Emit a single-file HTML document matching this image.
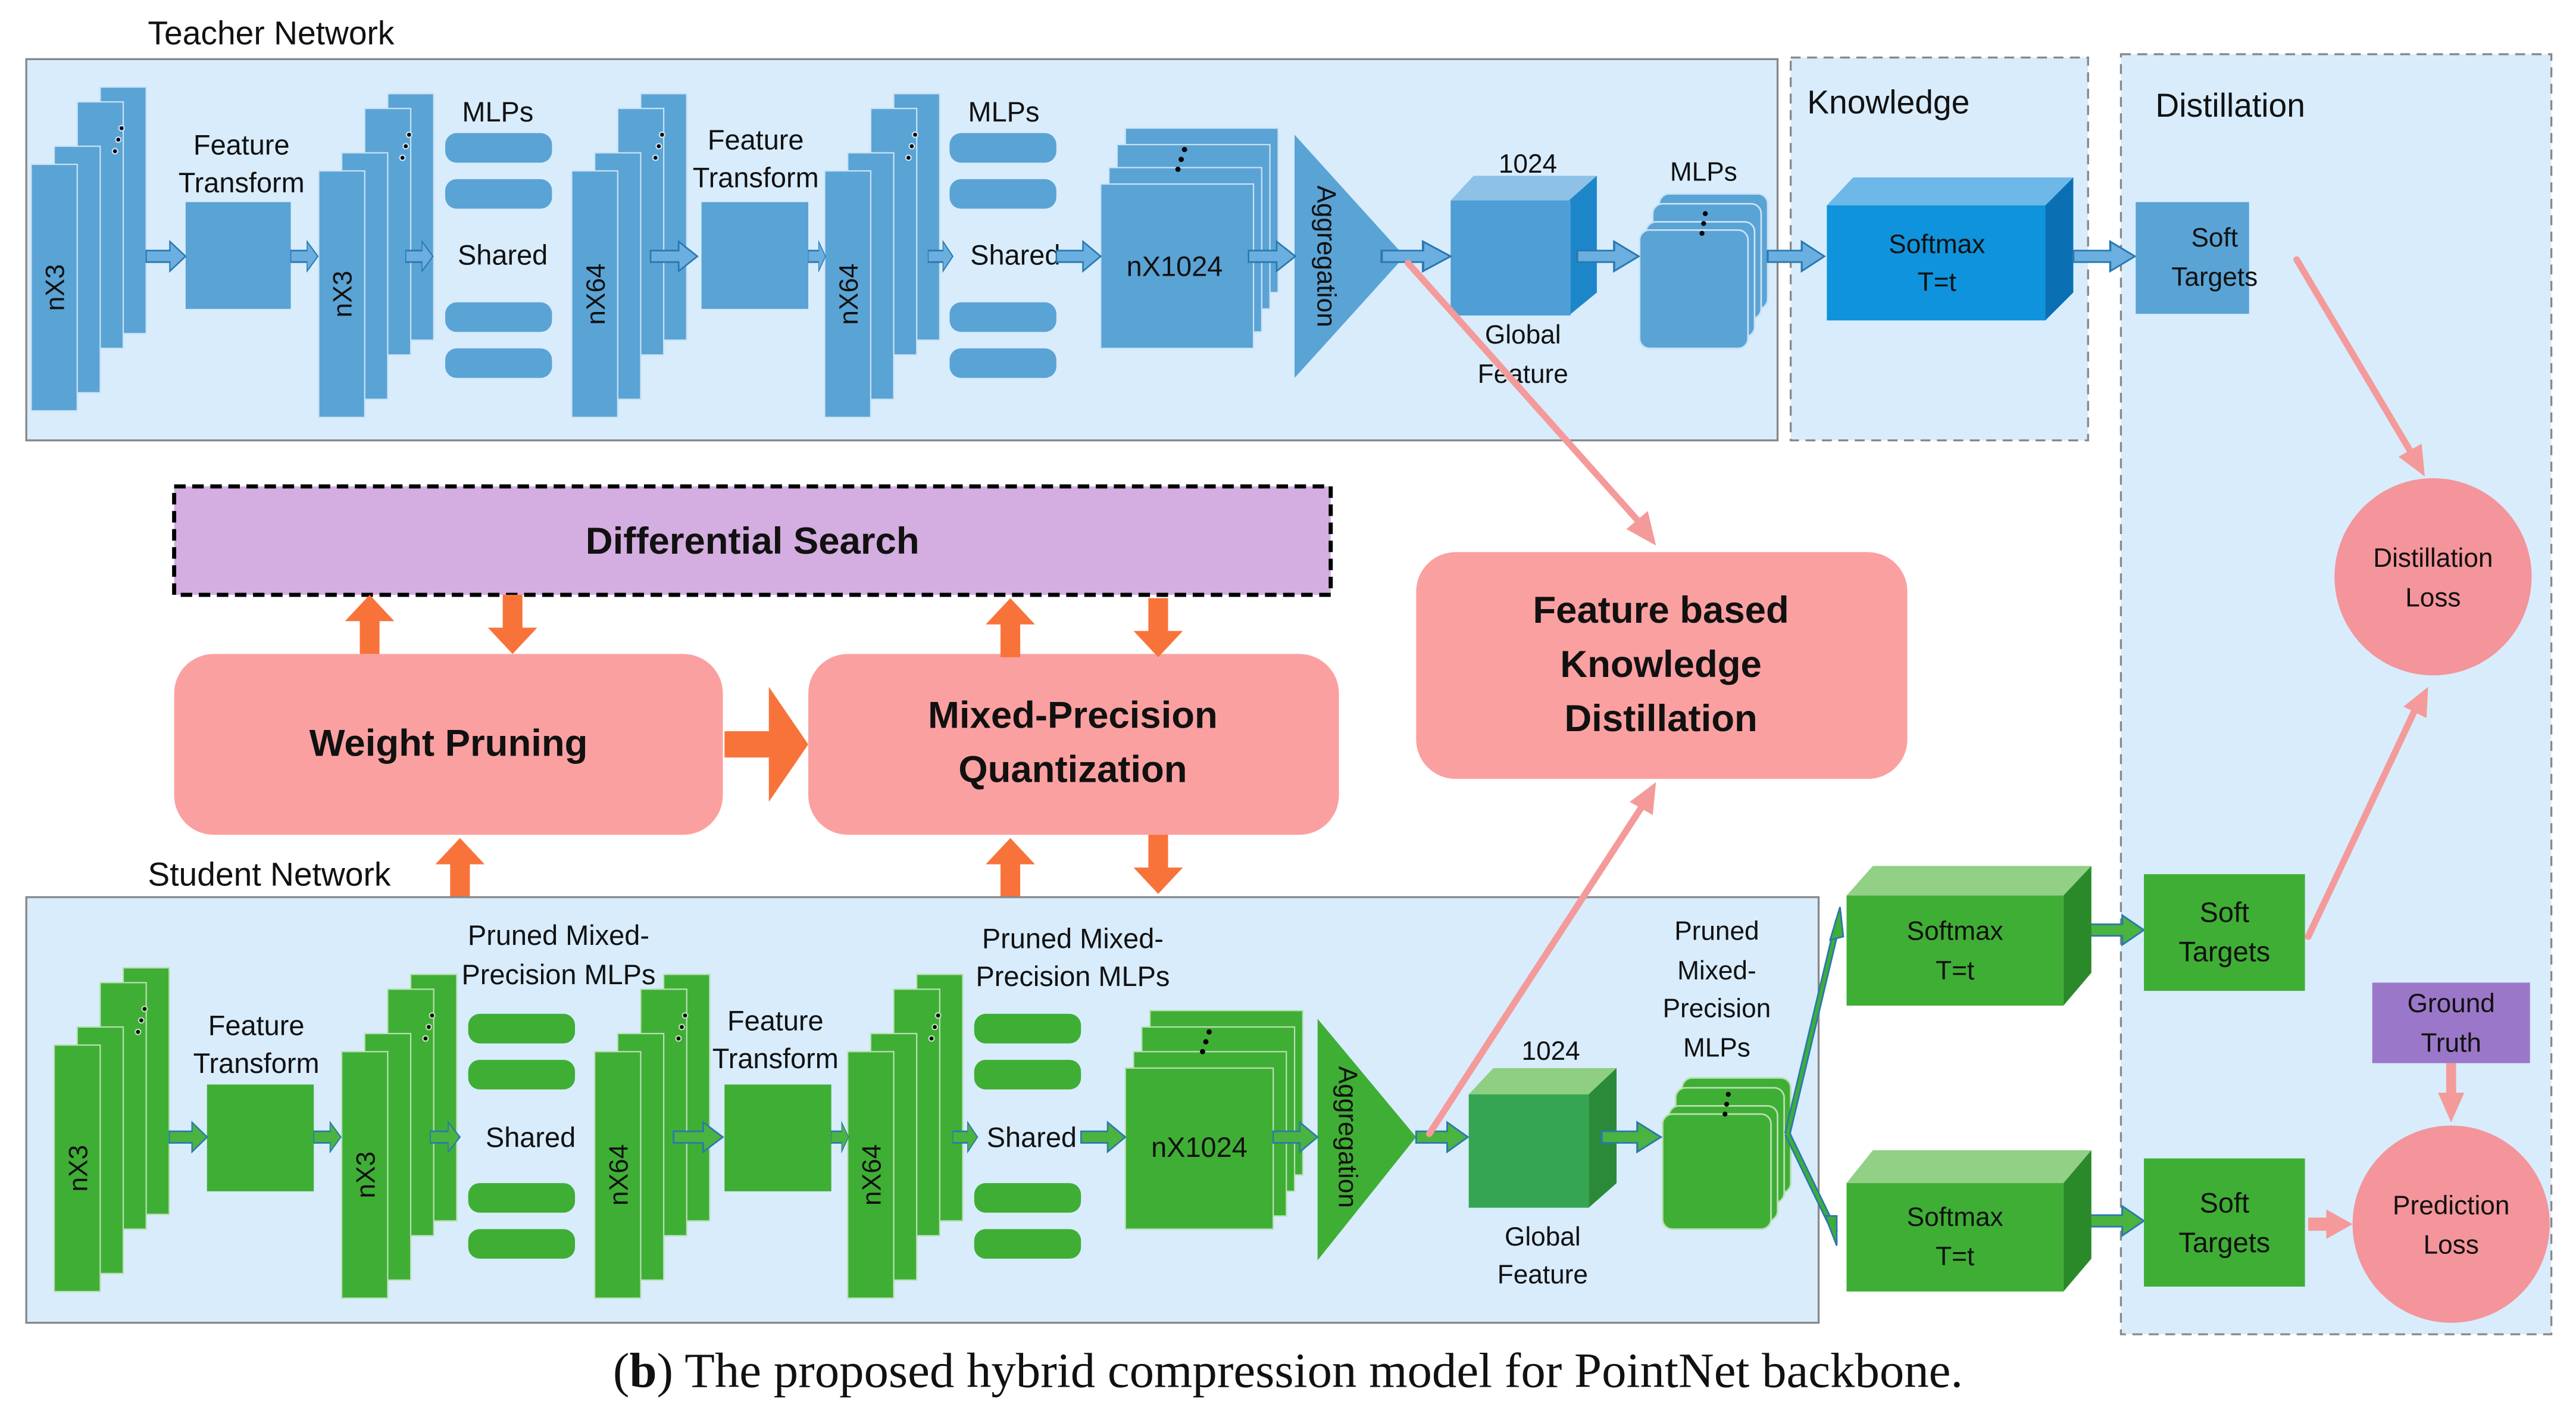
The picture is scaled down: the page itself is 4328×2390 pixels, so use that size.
<!DOCTYPE html>
<html><head><meta charset="utf-8"><style>
html,body{margin:0;padding:0;background:#fff;}
svg{display:block;}
text{font-family:"Liberation Sans",sans-serif;fill:#111;}
.b{font-weight:bold;}
</style></head><body>
<svg width="4328" height="2390" viewBox="0 0 1568 866" preserveAspectRatio="none" xmlns="http://www.w3.org/2000/svg">
<defs>
<g id="stk">
<rect x="42" y="-47" width="28" height="150"/>
<rect x="28" y="-38" width="28" height="150"/>
<rect x="14" y="-11" width="28" height="150"/>
<rect x="0" y="0" width="28" height="150"/>
<circle cx="55" cy="-22" r="1.6" fill="#000"/><circle cx="53" cy="-15" r="1.6" fill="#000"/><circle cx="51" cy="-8" r="1.6" fill="#000"/>
</g>
<path id="arB" d="M0,-3.5 H18 V-9 L30,0 L18,9 V3.5 H0 Z" fill="#6aafdf" stroke="#2a78b0" stroke-width="1"/>
<path id="arG" d="M0,-3.5 H18 V-9 L30,0 L18,9 V3.5 H0 Z" fill="#4bb33f" stroke="#2a78b0" stroke-width="1"/>
<path id="upO" d="M-6,0 V-20 H-15 L0,-36 L15,-20 H6 V0 Z" fill="#f8733a"/>
</defs>

<text x="90" y="27" font-size="20">Teacher Network</text>
<rect x="16" y="36" width="1066" height="232" fill="#d8ecfc" stroke="#888" stroke-width="1.2"/>
<rect x="1090" y="35" width="181" height="233" fill="#d8ecfc" stroke="#888" stroke-width="1.2" stroke-dasharray="6,4"/>
<text x="1100" y="69" font-size="20">Knowledge</text>
<rect x="1291" y="33" width="262" height="779" fill="#d8ecfc" stroke="#888" stroke-width="1.2" stroke-dasharray="6,4"/>
<text x="1312" y="71" font-size="20">Distillation</text>

<g fill="#5aa3d5" stroke="#c9e2f5" stroke-width="0.8">
<use href="#stk" x="19" y="100"/>
<use href="#stk" x="194" y="104"/>
<use href="#stk" x="348" y="104"/>
<use href="#stk" x="502" y="104"/>
</g>
<g font-size="16" text-anchor="middle">
<text transform="translate(39,175) rotate(-90)">nX3</text>
<text transform="translate(214,179) rotate(-90)">nX3</text>
<text transform="translate(368,179) rotate(-90)">nX64</text>
<text transform="translate(522,179) rotate(-90)">nX64</text>
</g>
<rect x="113" y="123" width="64" height="65" fill="#5aa3d5"/>
<rect x="427" y="123" width="65" height="65" fill="#5aa3d5"/>
<g font-size="17" text-anchor="middle">
<text x="147" y="94">Feature</text><text x="147" y="117">Transform</text>
<text x="460" y="91">Feature</text><text x="460" y="114">Transform</text>
<text x="303" y="74">MLPs</text><text x="306" y="161">Shared</text>
<text x="611" y="74">MLPs</text><text x="618" y="161">Shared</text>
</g>
<g fill="#5aa3d5">
<rect x="271" y="81" width="65" height="18" rx="7"/><rect x="271" y="109" width="65" height="18" rx="7"/>
<rect x="271" y="184" width="65" height="18" rx="7"/><rect x="271" y="212" width="65" height="18" rx="7"/>
<rect x="578" y="81" width="65" height="18" rx="7"/><rect x="578" y="109" width="65" height="18" rx="7"/>
<rect x="578" y="184" width="65" height="18" rx="7"/><rect x="578" y="212" width="65" height="18" rx="7"/>
</g>
<g fill="#5aa3d5" stroke="#c9e2f5" stroke-width="0.8">
<rect x="685" y="78" width="93" height="100"/>
<rect x="680" y="88" width="93" height="100"/>
<rect x="675" y="102" width="93" height="100"/>
<rect x="670" y="112" width="93" height="100"/>
</g>
<circle cx="721" cy="91" r="1.6"/><circle cx="719" cy="97" r="1.6"/><circle cx="717" cy="103" r="1.6"/>
<text x="715" y="168" font-size="17" text-anchor="middle">nX1024</text>
<polygon points="788,82 788,230 855,156" fill="#5aa3d5"/>
<text transform="translate(802,156) rotate(90)" font-size="16" text-anchor="middle">Aggregation</text>
<polygon points="883,122 897,107 972,107 958,122" fill="#8ec1e6"/>
<polygon points="955,122 972,107 972,178 955,192" fill="#1d86c9"/>
<rect x="883" y="122" width="73" height="70" fill="#4f9ed6"/>
<g font-size="16" text-anchor="middle">
<text x="930" y="105">1024</text><text x="927" y="209">Global</text><text x="927" y="233">Feature</text>
<text x="1037" y="110">MLPs</text>
</g>
<g fill="#5aa3d5" stroke="#c9e2f5" stroke-width="1">
<rect x="1010" y="118" width="66" height="70" rx="6"/>
<rect x="1006" y="124" width="66" height="70" rx="6"/>
<rect x="1002" y="135" width="66" height="70" rx="6"/>
<rect x="998" y="140" width="66" height="72" rx="6"/>
</g>
<circle cx="1038" cy="130" r="1.5"/><circle cx="1037" cy="136" r="1.5"/><circle cx="1036" cy="142" r="1.5"/>
<polygon points="1112,125 1128,108 1262,108 1245,125" fill="#6db8e8"/>
<polygon points="1245,125 1262,108 1262,178 1245,195" fill="#0a6fb3"/>
<rect x="1112" y="125" width="133" height="70" fill="#0f93dc"/>
<g font-size="16" text-anchor="middle">
<text x="1179" y="154">Softmax</text><text x="1179" y="177">T=t</text>
</g>
<rect x="1300" y="123" width="69" height="68" fill="#5aa3d5"/>
<g font-size="16" text-anchor="middle"><text x="1348" y="150">Soft</text><text x="1348" y="174">Targets</text></g>
<g>
<use href="#arB" transform="translate(89,156) scale(0.8,1)"/>
<use href="#arB" transform="translate(177,156) scale(0.55,1)"/>
<use href="#arB" transform="translate(247,156) scale(0.55,1)"/>
<use href="#arB" transform="translate(396,156) scale(0.95,1)"/>
<use href="#arB" transform="translate(492,156) scale(0.35,1)"/>
<use href="#arB" transform="translate(565,156) scale(0.5,1)"/>
<use href="#arB" transform="translate(643,156) scale(0.9,1)"/>
<use href="#arB" transform="translate(760,156) scale(0.95,1)"/>
<use href="#arB" transform="translate(841,156) scale(1.4,1)"/>
<use href="#arB" transform="translate(960,156) scale(1.25,1)"/>
<use href="#arB" transform="translate(1076,156) scale(1.15,1)"/>
<use href="#arB" transform="translate(1262,156) scale(1.25,1)"/>
</g>
<circle cx="1481" cy="351" r="60" fill="#f4949b"/>
<g font-size="16" text-anchor="middle"><text x="1481" y="345">Distillation</text><text x="1481" y="369">Loss</text></g>

<rect x="106" y="296" width="704" height="66" fill="#d4aee0" stroke="#000" stroke-width="2.5" stroke-dasharray="7,4"/>
<text x="458" y="337" font-size="23" class="b" text-anchor="middle">Differential Search</text>
<rect x="106" y="398" width="334" height="110" rx="24" fill="#fba0a0"/>
<text x="273" y="460" font-size="23" class="b" text-anchor="middle">Weight Pruning</text>
<rect x="492" y="398" width="323" height="110" rx="24" fill="#fba0a0"/>
<text x="653" y="443" font-size="23" class="b" text-anchor="middle">Mixed-Precision</text>
<text x="653" y="476" font-size="23" class="b" text-anchor="middle">Quantization</text>
<rect x="862" y="336" width="299" height="138" rx="24" fill="#fba0a0"/>
<g font-size="23" class="b" text-anchor="middle">
<text x="1011" y="379">Feature based</text><text x="1011" y="412">Knowledge</text><text x="1011" y="445">Distillation</text>
</g>
<g>
<use href="#upO" x="225" y="398"/>
<use href="#upO" transform="translate(312,362) rotate(180)"/>
<use href="#upO" x="615" y="400"/>
<use href="#upO" transform="translate(705,364) rotate(180)"/>
<use href="#upO" x="280" y="546"/>
<use href="#upO" x="615" y="546"/>
<use href="#upO" transform="translate(705,508) rotate(180)"/>
<polygon points="441,445 468,445 468,418 492,453 468,488 468,461 441,461" fill="#f8733a"/>
</g>

<text x="90" y="539" font-size="20">Student Network</text>
<rect x="16" y="546" width="1091" height="259" fill="#d8ecfc" stroke="#888" stroke-width="1.2"/>
<g fill="#3fae35" stroke="#b9e0b3" stroke-width="0.8">
<use href="#stk" x="33" y="636"/>
<use href="#stk" x="208" y="640"/>
<use href="#stk" x="362" y="640"/>
<use href="#stk" x="516" y="640"/>
</g>
<g font-size="16" text-anchor="middle">
<text transform="translate(53,711) rotate(-90)">nX3</text>
<text transform="translate(228,715) rotate(-90)">nX3</text>
<text transform="translate(382,715) rotate(-90)">nX64</text>
<text transform="translate(536,715) rotate(-90)">nX64</text>
</g>
<rect x="126" y="660" width="65" height="65" fill="#3fae35"/>
<rect x="441" y="660" width="65" height="65" fill="#3fae35"/>
<g font-size="17" text-anchor="middle">
<text x="156" y="630">Feature</text><text x="156" y="653">Transform</text>
<text x="472" y="627">Feature</text><text x="472" y="650">Transform</text>
<text x="340" y="575">Pruned Mixed-</text><text x="340" y="599">Precision MLPs</text>
<text x="653" y="577">Pruned Mixed-</text><text x="653" y="600">Precision MLPs</text>
<text x="323" y="698">Shared</text><text x="628" y="698">Shared</text>
</g>
<g fill="#3fae35">
<rect x="285" y="617" width="65" height="18" rx="7"/><rect x="285" y="645" width="65" height="18" rx="7"/>
<rect x="285" y="720" width="65" height="18" rx="7"/><rect x="285" y="748" width="65" height="18" rx="7"/>
<rect x="593" y="617" width="65" height="18" rx="7"/><rect x="593" y="645" width="65" height="18" rx="7"/>
<rect x="593" y="720" width="65" height="18" rx="7"/><rect x="593" y="748" width="65" height="18" rx="7"/>
</g>
<g fill="#3fae35" stroke="#b9e0b3" stroke-width="0.8">
<rect x="700" y="615" width="93" height="100"/>
<rect x="695" y="625" width="93" height="100"/>
<rect x="690" y="640" width="93" height="100"/>
<rect x="685" y="650" width="90" height="98"/>
</g>
<circle cx="736" cy="628" r="1.6"/><circle cx="734" cy="634" r="1.6"/><circle cx="732" cy="640" r="1.6"/>
<text x="730" y="704" font-size="17" text-anchor="middle">nX1024</text>
<polygon points="802,620 802,767 862,692" fill="#3fae35"/>
<text transform="translate(815,692) rotate(90)" font-size="16" text-anchor="middle">Aggregation</text>
<polygon points="894,666 909,650 984,650 968,666" fill="#8fcf82"/>
<polygon points="967,666 984,650 984,720 967,735" fill="#2a8a3a"/>
<rect x="894" y="666" width="73" height="69" fill="#35a552"/>
<g font-size="16" text-anchor="middle">
<text x="944" y="645">1024</text><text x="939" y="758">Global</text><text x="939" y="781">Feature</text>
<text x="1045" y="572">Pruned</text><text x="1045" y="596">Mixed-</text><text x="1045" y="619">Precision</text><text x="1045" y="643">MLPs</text>
</g>
<g fill="#3fae35" stroke="#b9e0b3" stroke-width="1">
<rect x="1024" y="656" width="66" height="70" rx="6"/>
<rect x="1020" y="662" width="66" height="70" rx="6"/>
<rect x="1016" y="673" width="66" height="70" rx="6"/>
<rect x="1012" y="678" width="66" height="70" rx="6"/>
</g>
<circle cx="1052" cy="666" r="1.5"/><circle cx="1051" cy="672" r="1.5"/><circle cx="1050" cy="678" r="1.5"/>
<g>
<use href="#arG" transform="translate(103,692) scale(0.77,1)"/>
<use href="#arG" transform="translate(191,692) scale(0.55,1)"/>
<use href="#arG" transform="translate(262,692) scale(0.6,1)"/>
<use href="#arG" transform="translate(410,692) scale(1.0,1)"/>
<use href="#arG" transform="translate(506,692) scale(0.35,1)"/>
<use href="#arG" transform="translate(580,692) scale(0.5,1)"/>
<use href="#arG" transform="translate(658,692) scale(0.9,1)"/>
<use href="#arG" transform="translate(775,692) scale(0.9,1)"/>
<use href="#arG" transform="translate(862,692) scale(1.05,1)"/>
<use href="#arG" transform="translate(975,692) scale(1.2,1)"/>
<use href="#arG" transform="translate(1272,566) scale(1.1,1)"/>
<use href="#arG" transform="translate(1272,743) scale(1.1,1)"/>
</g>
<g stroke="#2a78b0" stroke-width="4" fill="none"><path d="M1088,690 L1119,560 M1088,690 L1117,750"/></g>
<g stroke="#3fae35" stroke-width="2" fill="none"><path d="M1088,690 L1119,560 M1088,690 L1117,750"/></g>
<polygon points="1120,552 1114,572 1122,570" fill="#3fae35" stroke="#2a78b0" stroke-width="1"/>
<polygon points="1118,758 1111,740 1118,740" fill="#3fae35" stroke="#2a78b0" stroke-width="1"/>
<polygon points="1124,545 1140,527 1273,527 1256,545" fill="#92d085"/>
<polygon points="1256,545 1273,527 1273,592 1256,612" fill="#2a8a2a"/>
<rect x="1124" y="545" width="132" height="67" fill="#3fae35"/>
<polygon points="1124,720 1140,700 1273,700 1256,720" fill="#92d085"/>
<polygon points="1256,720 1273,700 1273,766 1256,786" fill="#2a8a2a"/>
<rect x="1124" y="720" width="132" height="66" fill="#3fae35"/>
<g font-size="16" text-anchor="middle">
<text x="1190" y="572">Softmax</text><text x="1190" y="596">T=t</text>
<text x="1190" y="746">Softmax</text><text x="1190" y="770">T=t</text>
</g>
<rect x="1305" y="532" width="98" height="71" fill="#3fae35"/>
<rect x="1305" y="705" width="98" height="78" fill="#3fae35"/>
<g font-size="17" text-anchor="middle">
<text x="1354" y="561">Soft</text><text x="1354" y="585">Targets</text>
<text x="1354" y="738">Soft</text><text x="1354" y="762">Targets</text>
</g>
<rect x="1444" y="598" width="96" height="49" fill="#9b77c9"/>
<g font-size="16" text-anchor="middle"><text x="1492" y="616">Ground</text><text x="1492" y="640">Truth</text></g>
<circle cx="1492" cy="745" r="60" fill="#f4949b"/>
<g font-size="16" text-anchor="middle"><text x="1492" y="739">Prediction</text><text x="1492" y="763">Loss</text></g>

<g stroke="#f49a9a" stroke-width="4" fill="none" stroke-linecap="round">
<line x1="857" y1="160" x2="998" y2="318"/>
<line x1="1398" y1="158" x2="1468" y2="276"/>
<line x1="870" y1="690" x2="1000" y2="490"/>
<line x1="1405" y1="570" x2="1470" y2="432"/>
</g>
<g fill="#f49a9a">
<polygon points="1008,332 990,322 1003,311"/>
<polygon points="1476,290 1460,278 1474,270"/>
<polygon points="1008,476 1006,496 992,488"/>
<polygon points="1478,418 1477,437 1463,430"/>
<polygon points="1489,647 1495,647 1495,665 1500,665 1492,683 1484,665 1489,665"/>
<polygon points="1405,741 1416,741 1416,736 1432,745 1416,754 1416,749 1405,749"/>
</g>

<text x="784" y="844" font-size="30" text-anchor="middle" style="font-family:'Liberation Serif',serif">(<tspan font-weight="bold">b</tspan>) The proposed hybrid compression model for PointNet backbone.</text>
</svg>
</body></html>
